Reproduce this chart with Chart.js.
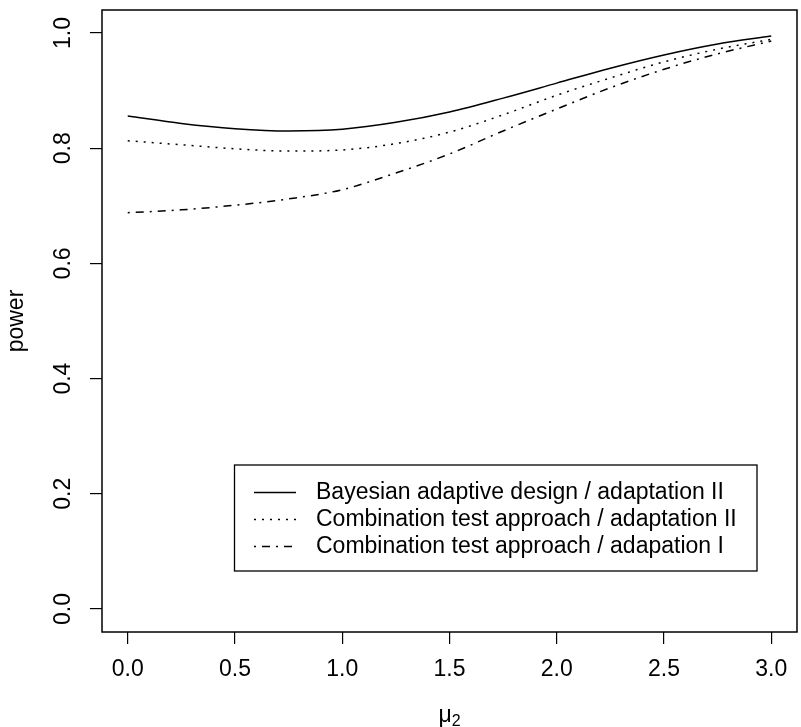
<!DOCTYPE html>
<html>
<head>
<meta charset="utf-8">
<script src="https://cdn.jsdelivr.net/npm/chart.js@4.4.0/dist/chart.umd.min.js"></script>
<style>
  html, body { margin: 0; padding: 0; background: #fff; }
</style>
</head>
<body>
<canvas id="powerChart" width="801" height="727"></canvas>
<script>
// values
const mu = [0, 0.25, 0.5, 0.75, 1, 1.25, 1.5, 1.75, 2, 2.25, 2.5, 2.75, 3];
const bayesAdaptII = [0.856, 0.843, 0.834, 0.830, 0.833, 0.845, 0.863, 0.887, 0.913, 0.939, 0.962, 0.981, 0.995];
const combTestII = [0.813, 0.806, 0.799, 0.795, 0.797, 0.808, 0.828, 0.858, 0.892, 0.922, 0.950, 0.972, 0.989];
const combTestI = [0.688, 0.693, 0.701, 0.712, 0.728, 0.757, 0.790, 0.830, 0.868, 0.905, 0.937, 0.964, 0.986];
const seriesLabels = [
    'Bayesian adaptive design / adaptation II',
    'Combination test approach / adaptation II',
    'Combination test approach / adapation I'
];
const xTicks = [0, 0.5, 1, 1.5, 2, 2.5, 3];
const yTicks = [0, 0.2, 0.4, 0.6, 0.8, 1];

const FONT = "'Liberation Sans', Arial, Helvetica, sans-serif";

function pairs(ys) {
    return mu.map((x, i) => ({ x: x, y: ys[i] }));
}

function lineSet(label, ys, dash) {
    return {
        label: label,
        data: pairs(ys),
        borderColor: '#000',
        borderWidth: 1.5,
        borderDash: dash,
        pointRadius: 0,
        fill: false,
        cubicInterpolationMode: 'monotone'
    };
}

// box around the plot, legend and the x axis title
const rFrame = {
    id: 'rFrame',
    afterDatasetsDraw(chart) {
        const ctx = chart.ctx;
        const a = chart.chartArea;
        ctx.save();
        ctx.strokeStyle = '#000';
        ctx.lineWidth = 1.5;
        ctx.setLineDash([]);
        ctx.strokeRect(a.left, a.top, a.right - a.left, a.bottom - a.top);

        // legend
        const lx = 234.5, ly = 465, lw = 522.5, lh = 106;
        ctx.lineWidth = 1.3;
        ctx.strokeRect(lx, ly, lw, lh);
        ctx.font = '23px ' + FONT;
        ctx.fillStyle = '#000';
        ctx.textBaseline = 'middle';
        ctx.textAlign = 'left';
        chart.data.datasets.forEach((ds, i) => {
            const y = 492.5 + i * 27;
            ctx.lineWidth = 1.3;
            ctx.setLineDash(ds.borderDash || []);
            ctx.beginPath();
            ctx.moveTo(254, y);
            ctx.lineTo(296, y);
            ctx.stroke();
            ctx.setLineDash([]);
            ctx.fillText(ds.label, 316, y);
        });

        // x title: mu with subscript 2
        const cx = (a.left + a.right) / 2;
        ctx.textBaseline = 'alphabetic';
        ctx.font = '23px ' + FONT;
        const w1 = ctx.measureText('\u03bc').width;
        ctx.font = '16px ' + FONT;
        const w2 = ctx.measureText('2').width;
        const x0 = cx - (w1 + w2) / 2;
        ctx.font = '23px ' + FONT;
        ctx.fillText('\u03bc', x0, 722);
        ctx.font = '16px ' + FONT;
        ctx.fillText('2', x0 + w1, 726);
        ctx.restore();
    }
};

const tickFont = { family: FONT, size: 23 };

const ctx = document.getElementById('powerChart').getContext('2d');
const powerChart = new Chart(ctx, {
    type: 'line',
    data: {
        datasets: [
            lineSet(seriesLabels[0], bayesAdaptII, []),
            lineSet(seriesLabels[1], combTestII, [2, 6]),
            lineSet(seriesLabels[2], combTestI, [2, 6, 8, 6])
        ]
    },
    options: {
        responsive: false,
        animation: false,
        devicePixelRatio: 1,
        layout: { padding: { top: 10, right: 4, left: 0, bottom: 0 } },
        plugins: {
            legend: { display: false },
            tooltip: { enabled: false }
        },
        scales: {
            x: {
                type: 'linear',
                min: -0.12,
                max: 3.12,
                afterBuildTicks: s => { s.ticks = xTicks.map(v => ({ value: v })); },
                afterFit: s => { s.height = 95; s.paddingLeft = 0; s.paddingRight = 0; },
                grid: { drawOnChartArea: false, drawTicks: true, tickLength: 12, color: '#000', lineWidth: 1.2 },
                border: { display: false },
                ticks: {
                    font: tickFont,
                    color: '#000',
                    padding: 12,
                    maxRotation: 0,
                    autoSkip: false,
                    callback: v => v.toFixed(1)
                }
            },
            y: {
                type: 'linear',
                min: -0.04,
                max: 1.04,
                afterBuildTicks: s => { s.ticks = yTicks.map(v => ({ value: v })); },
                afterFit: s => { s.width = 102; s.paddingTop = 0; s.paddingBottom = 0; },
                grid: { drawOnChartArea: false, drawTicks: true, tickLength: 12, color: '#000', lineWidth: 1.2 },
                border: { display: false },
                ticks: {
                    font: tickFont,
                    color: '#000',
                    padding: 10,
                    minRotation: 90,
                    maxRotation: 90,
                    crossAlign: 'center',
                    autoSkip: false,
                    callback: v => v.toFixed(1)
                },
                title: {
                    display: true,
                    text: 'power',
                    font: tickFont,
                    color: '#000',
                    padding: { top: 3, bottom: 0 }
                }
            }
        }
    },
    plugins: [rFrame]
});
</script>
</body>
</html>
